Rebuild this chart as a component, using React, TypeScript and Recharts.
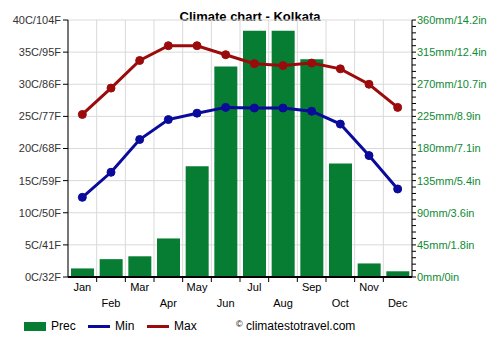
import { ComposedChart, Bar, Line, XAxis, YAxis, CartesianGrid } from 'recharts'

const months = ['Jan', 'Feb', 'Mar', 'Apr', 'May', 'Jun', 'Jul', 'Aug', 'Sep', 'Oct', 'Nov', 'Dec']
const prec = [12, 25, 29, 54, 155, 295, 345, 345, 305, 159, 19, 8]
const minTemp = [12.4, 16.3, 21.4, 24.5, 25.5, 26.4, 26.3, 26.3, 25.8, 23.8, 18.9, 13.7]
const maxTemp = [25.3, 29.4, 33.7, 36.0, 36.0, 34.6, 33.2, 32.9, 33.3, 32.4, 30.0, 26.4]
const tempTicks = [0, 5, 10, 15, 20, 25, 30, 35, 40]
const precTicks = Array.from({ length: 41 }, (_, i) => i * 9)
// labels for every 45 mm, as printed on the original
const precLabels = ['0mm/0in', '45mm/1.8in', '90mm/3.6in', '135mm/5.4in', '180mm/7.1in', '225mm/8.9in', '270mm/10.7in', '315mm/12.4in', '360mm/14.2in']

const GREEN = '#067d32'
const RED = '#9b0b0b'
const BLUE = '#0a0a9b'
const FONT = '"Liberation Sans", Arial, sans-serif'

const data = months.map((m, i) => ({
  month: m,
  prec: prec[i],
  min: minTemp[i],
  max: maxTemp[i],
}))

const cToF = (c: number) => Math.round((c * 9) / 5 + 32)

function MonthTick(props: any) {
  const { x, y, payload, index } = props
  const half = payload?.offset ?? 344 / 24
  return (
    <g>
      {index > 0 && <line x1={x - half} x2={x - half} y1={y} y2={y + 5} stroke="#000" />}
      <text x={x} y={y + (index % 2 === 0 ? 14 : 30)} textAnchor="middle" fontSize={11} fill="#000" fontFamily={FONT}>
        {payload.value}
      </text>
    </g>
  )
}

export default function App() {
  return (
    <div style={{ position: 'absolute', left: 0, top: 0, width: 500, height: 350, background: '#fff', fontFamily: FONT }}>
      <div style={{ position: 'absolute', top: 9, left: 0, width: 500, textAlign: 'center', fontSize: 13, fontWeight: 'bold', color: '#000' }}>
        Climate chart - Kolkata
      </div>
      <ComposedChart width={500} height={350} data={data} margin={{ top: 20, right: 0, bottom: 43, left: 0 }}>
        <CartesianGrid
          yAxisId="t"
          stroke="#d9d9d9"
          verticalCoordinatesGenerator={({ offset }: any) =>
            Array.from({ length: 13 }, (_, i) => offset.left + (i * offset.width) / 12)
          }
        />
        <XAxis
          dataKey="month"
          height={30}
          interval={0}
          tickSize={0}
          tickMargin={0}
          tick={<MonthTick />}
          axisLine={{ stroke: '#000', strokeWidth: 2 }}
        />
        <YAxis
          yAxisId="t"
          width={68}
          domain={[0, 40]}
          ticks={tempTicks}
          interval={0}
          tickSize={5}
          tickMargin={2}
          axisLine={{ stroke: '#000' }}
          tickLine={{ stroke: '#000' }}
          tick={{ fontSize: 11, fill: '#333', fontFamily: FONT }}
          tickFormatter={(v: number) => `${v}C/${cToF(v)}F`}
        />
        <YAxis
          yAxisId="p"
          orientation="right"
          width={88}
          domain={[0, 360]}
          ticks={precTicks}
          interval={0}
          tickSize={4}
          tickMargin={1}
          axisLine={{ stroke: '#000' }}
          tickLine={{ stroke: '#000' }}
          tick={{ fontSize: 11, fill: '#0f8a35', fontFamily: FONT, textAnchor: 'start' }}
          tickFormatter={(v: number) => (v % 45 === 0 ? precLabels[v / 45] : '')}
        />
        <Bar yAxisId="p" dataKey="prec" fill={GREEN} barSize={23} isAnimationActive={false} />
        <Line
          yAxisId="t"
          dataKey="min"
          stroke={BLUE}
          strokeWidth={3}
          dot={{ r: 4, fill: BLUE, stroke: BLUE, strokeWidth: 1 }}
          isAnimationActive={false}
        />
        <Line
          yAxisId="t"
          dataKey="max"
          stroke={RED}
          strokeWidth={3}
          dot={{ r: 4, fill: RED, stroke: RED, strokeWidth: 1 }}
          isAnimationActive={false}
        />
      </ComposedChart>
      <div style={{ position: 'absolute', top: 319, left: 0, width: 500, height: 16, fontSize: 12, color: '#000' }}>
        <div style={{ position: 'absolute', left: 24, top: 3, width: 22, height: 9, background: GREEN }} />
        <span style={{ position: 'absolute', left: 51, top: 0 }}>Prec</span>
        <div style={{ position: 'absolute', left: 88, top: 6, width: 22, height: 3, background: BLUE }} />
        <span style={{ position: 'absolute', left: 115, top: 0 }}>Min</span>
        <div style={{ position: 'absolute', left: 147, top: 6, width: 22, height: 3, background: RED }} />
        <span style={{ position: 'absolute', left: 174, top: 0 }}>Max</span>
        <span style={{ position: 'absolute', left: 236, top: 0 }}>
          <span style={{ fontSize: 9, verticalAlign: 'top' }}>©</span> climatestotravel.com
        </span>
      </div>
    </div>
  )
}
